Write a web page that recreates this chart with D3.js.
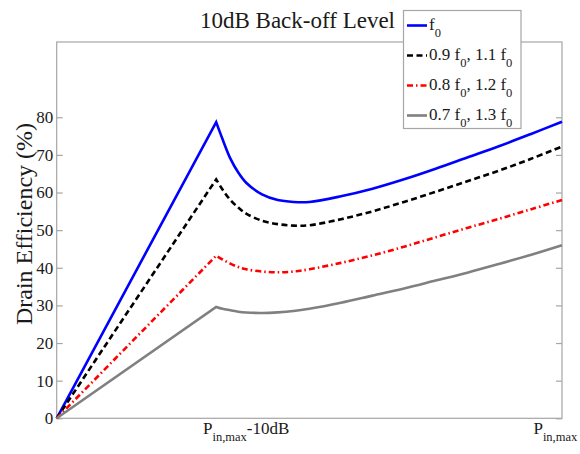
<!DOCTYPE html>
<html>
<head>
<meta charset="utf-8">
<script src="https://cdn.jsdelivr.net/npm/d3@7"></script>
<style>
  html, body { margin: 0; padding: 0; background: #fff; }
  svg { display: block; }
  text { font-family: "Liberation Serif", "Times New Roman", serif; fill: #1a1a1a; }
</style>
</head>
<body>
<svg id="chart" width="580" height="454"></svg>
<script>
// Input drive level in dB relative to P_in,max
const inputDb = [-16, -10.95, -10.75, -10.5, -10.25, -10, -9.5, -9, -8.5, -8, -7, -6, -5, -4, -3, -2, -1, 0];

// Drain efficiency (%) at each drive level, one array per operating frequency
const effF0     = [0, 78.7, 74.2, 69.0, 65.3, 62.6, 59.5, 58.0, 57.5, 57.5, 59.0, 61.0, 63.5, 66.3, 69.3, 72.3, 75.5, 78.8];
const effF09_11 = [0, 63.5, 60.8, 58.0, 56.0, 54.4, 52.5, 51.6, 51.2, 51.3, 52.9, 55.0, 57.5, 60.2, 63.0, 65.8, 68.9, 72.2];
const effF08_12 = [0, 43.2, 42.2, 41.1, 40.2, 39.6, 39.0, 38.8, 39.0, 39.6, 41.3, 43.3, 45.6, 48.1, 50.6, 53.0, 55.5, 58.0];
const effF07_13 = [0, 29.6, 29.1, 28.7, 28.3, 28.1, 28.0, 28.15, 28.5, 29.1, 30.7, 32.6, 34.5, 36.6, 38.7, 41.0, 43.4, 46.0];

// Axis ticks and labels
const yTicks = [0, 10, 20, 30, 40, 50, 60, 70, 80];
const xTickValues = [-10, 0];
const xTickLabels = [
  [{ t: "P" }, { t: "in,max", sub: true }, { t: "-10dB" }],
  [{ t: "P" }, { t: "in,max", sub: true }]
];

// Legend labels (text runs, subscripts flagged)
const legendLabels = [
  [{ t: "f" }, { t: "0", sub: true }],
  [{ t: "0.9 f" }, { t: "0", sub: true }, { t: ", 1.1 f" }, { t: "0", sub: true }],
  [{ t: "0.8 f" }, { t: "0", sub: true }, { t: ", 1.2 f" }, { t: "0", sub: true }],
  [{ t: "0.7 f" }, { t: "0", sub: true }, { t: ", 1.3 f" }, { t: "0", sub: true }]
];

const titleText = "10dB Back-off Level";
const yLabelText = "Drain Efficiency (%)";

const series = [
  { values: effF0,     color: "#0000ff", dash: null },
  { values: effF09_11, color: "#000000", dash: "6,3.5" },
  { values: effF08_12, color: "#ff0000", dash: "6,3,1.5,3" },
  { values: effF07_13, color: "#808080", dash: null }
];

const W = 580, H = 454;
const plot = { left: 56.7, right: 562, top: 42, bottom: 418.3 };
const axisColor = "#a6a6a6";

const svg = d3.select("#chart");

const x = d3.scaleLinear().domain([-16, 0]).range([plot.left, plot.right]);
const y = d3.scaleLinear().domain([0, 100]).range([plot.bottom, plot.top]);

// Plot frame
svg.append("rect")
  .attr("x", plot.left).attr("y", plot.top)
  .attr("width", plot.right - plot.left).attr("height", plot.bottom - plot.top)
  .attr("fill", "#fff").attr("stroke", axisColor).attr("stroke-width", 1.2);

// Left axis with inward ticks
const gLeft = svg.append("g")
  .attr("transform", `translate(${plot.left},0)`)
  .call(d3.axisLeft(y).tickValues(yTicks).tickSizeInner(-6).tickSizeOuter(0).tickPadding(4));
gLeft.attr("font-family", null);
gLeft.select(".domain").remove();
gLeft.selectAll(".tick line").attr("stroke", axisColor).attr("stroke-width", 1.2);
gLeft.selectAll(".tick text")
  .attr("x", -3.5)
  .style("font-family", "'Liberation Serif', serif")
  .style("font-size", "17px")
  .attr("fill", "#222");

// Right axis: tick marks only
const gRight = svg.append("g")
  .attr("transform", `translate(${plot.right},0)`)
  .call(d3.axisRight(y).tickValues(yTicks).tickSizeInner(-6).tickSizeOuter(0).tickFormat(""));
gRight.select(".domain").remove();
gRight.selectAll(".tick line").attr("stroke", axisColor).attr("stroke-width", 1.2);

// Helper to write text runs with subscripts
function writeRuns(textSel, runs, mainSize, subSize, subShift) {
  let shifted = false;
  runs.forEach(r => {
    const ts = textSel.append("tspan").text(r.t);
    if (r.sub) {
      ts.style("font-size", subSize + "px").attr("dy", shifted ? 0 : subShift);
      shifted = true;
    } else {
      ts.style("font-size", mainSize + "px").attr("dy", shifted ? -subShift : 0);
      shifted = false;
    }
  });
}

// X tick labels (no tick marks)
xTickValues.forEach((v, i) => {
  const t = svg.append("text")
    .attr("x", x(v)).attr("y", 434)
    .attr("text-anchor", "middle")
    .attr("fill", "#222");
  writeRuns(t, xTickLabels[i], 17, 12.5, 7);
  // keep the label inside the canvas
  const bb = t.node().getBBox();
  if (bb.x + bb.width > W - 2) t.attr("x", x(v) - (bb.x + bb.width - (W - 2)));
});

// Curves: linear ramp to the peak, smooth curve after it
const smooth = d3.line()
  .x(d => x(d[0])).y(d => y(d[1]))
  .curve(d3.curveCatmullRom.alpha(0.5));

series.forEach(s => {
  const pts = inputDb.map((d, i) => [d, s.values[i]]);
  const tail = smooth(pts.slice(1));
  const dStr = `M${x(pts[0][0])},${y(pts[0][1])}L` + tail.slice(1);
  svg.append("path")
    .attr("d", dStr)
    .attr("fill", "none")
    .attr("stroke", s.color)
    .attr("stroke-width", 2.6)
    .attr("stroke-linejoin", "miter")
    .attr("stroke-dasharray", s.dash);
});

// Title
svg.append("text")
  .attr("x", 395).attr("y", 28)
  .attr("text-anchor", "end")
  .style("font-size", "23px")
  .attr("fill", "#1a1a1a")
  .text(titleText);

// Y axis label
svg.append("text")
  .attr("transform", "translate(32,224) rotate(-90)")
  .attr("text-anchor", "middle")
  .style("font-size", "24px")
  .attr("fill", "#1a1a1a")
  .text(yLabelText);

// Legend
const legend = { x: 403.5, y: 10.5, w: 117.5, h: 118, rowY0: 25.5, rowStep: 30 };
svg.append("rect")
  .attr("x", legend.x).attr("y", legend.y)
  .attr("width", legend.w).attr("height", legend.h)
  .attr("fill", "#fff").attr("stroke", axisColor).attr("stroke-width", 1.2);

series.forEach((s, i) => {
  const ry = legend.rowY0 + i * legend.rowStep;
  svg.append("line")
    .attr("x1", legend.x + 3.5).attr("x2", legend.x + 23.5)
    .attr("y1", ry).attr("y2", ry)
    .attr("stroke", s.color).attr("stroke-width", 2.6)
    .attr("stroke-dasharray", s.dash);
  const t = svg.append("text")
    .attr("x", legend.x + 25.5).attr("y", ry + 4)
    .attr("fill", "#1a1a1a");
  writeRuns(t, legendLabels[i], 17, 12.5, 7);
});
</script>
</body>
</html>
